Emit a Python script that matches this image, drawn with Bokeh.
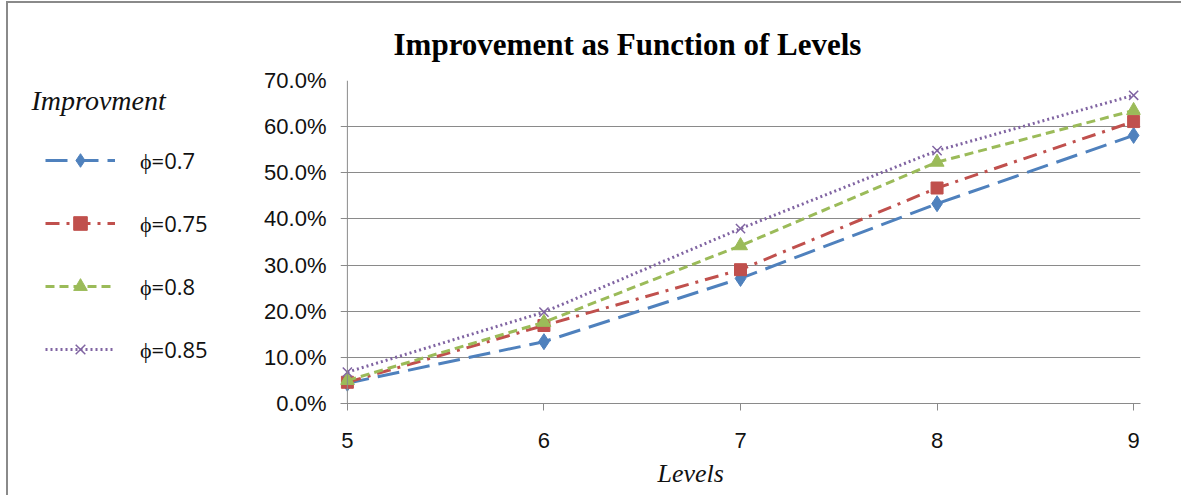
from bokeh.plotting import figure
from bokeh.layouts import row
from bokeh.models import (Range1d, NumeralTickFormatter, FixedTicker, Legend, LegendItem,
                          Span, Title, Label)
from bokeh.embed import file_html
from bokeh.resources import INLINE

levels = [5, 6, 7, 8, 9]
phi_070 = [0.044, 0.134, 0.271, 0.433, 0.581]
phi_075 = [0.046, 0.169, 0.290, 0.467, 0.611]
phi_080 = [0.050, 0.176, 0.342, 0.523, 0.635]
phi_085 = [0.068, 0.198, 0.379, 0.548, 0.668]
series_labels = ["ϕ=0.7", "ϕ=0.75", "ϕ=0.8", "ϕ=0.85"]
y_ticks = [0.0, 0.1, 0.2, 0.3, 0.4, 0.5, 0.6, 0.7]

H = 492
LW = 230
MW = 1173 - LW
TOP, BOTTOM = 77, 92
grey = "#8a8a8a"

# ---------------- main chart ----------------
p = figure(width=MW, height=H, output_backend="svg", toolbar_location=None,
           x_range=Range1d(4.965, 9.035), y_range=Range1d(0, 0.70),
           min_border_left=332 - LW, min_border_right=41,
           min_border_top=TOP, min_border_bottom=BOTTOM)
p.title = None
p.outline_line_color = None
p.background_fill_color = "white"
p.border_fill_color = "white"

p.xaxis.ticker = FixedTicker(ticks=levels)
p.xaxis.axis_line_color = grey
p.xaxis.major_tick_line_color = grey
p.xaxis.major_tick_out = 7
p.xaxis.major_tick_in = 0
p.xaxis.minor_tick_line_color = None
p.xaxis.major_label_standoff = 22
p.xaxis.major_label_text_font = "Liberation Sans"
p.xaxis.major_label_text_font_size = "22px"
p.xaxis.major_label_text_color = "#111111"

p.yaxis.ticker = FixedTicker(ticks=y_ticks)
p.yaxis.formatter = NumeralTickFormatter(format="0.0%")
p.yaxis.axis_line_color = None
p.yaxis.major_tick_line_color = None
p.yaxis.minor_tick_line_color = None
p.yaxis.major_label_standoff = 8
p.yaxis.major_label_text_font = "Liberation Sans"
p.yaxis.major_label_text_font_size = "22px"
p.yaxis.major_label_text_color = "#111111"

p.xgrid.grid_line_color = None
p.ygrid.ticker = FixedTicker(ticks=y_ticks)
p.ygrid.grid_line_color = grey
p.ygrid.grid_line_width = 1

p.add_layout(Span(location=levels[0], dimension="height", line_color=grey, line_width=1))

styles = [
    (phi_070, "#4F81BD", "22 9", "diamond", 16),
    (phi_075, "#C0504D", "14 7 3 7", "square", 12),
    (phi_080, "#9BBB59", "9 5", "triangle", 14),
    (phi_085, "#8064A2", "2 3", "x", 13),
]

p.add_layout(Title(text="Improvement as Function of Levels", align="left", offset=53,
                   text_font="Liberation Serif", text_font_style="bold",
                   text_font_size="31px", text_color="#000000", standoff=38), "above")
p.add_layout(Title(text="Levels", align="left", offset=317,
                   text_font="Liberation Serif", text_font_style="italic",
                   text_font_size="26px", text_color="#111111", standoff=13), "below")

# ---------------- legend panel (frame is aligned with the main frame by the row) ----------------
lg = figure(width=LW, height=H, output_backend="svg", toolbar_location=None,
            x_range=Range1d(0, LW), y_range=Range1d(H - BOTTOM, TOP),
            x_axis_type=None, y_axis_type=None,
            min_border_left=0, min_border_right=0,
            min_border_top=TOP, min_border_bottom=BOTTOM)
lg.title = None
lg.outline_line_color = None
lg.border_fill_color = "white"
lg.extra_y_ranges = {"off": Range1d(10, 11)}

items = []
for (vals, col, dash, mk, sz), lab in zip(styles, series_labels):
    p.line(levels, vals, line_color=col, line_width=3, line_dash=dash)
    if mk == "x":
        p.scatter(levels, vals, marker=mk, size=sz, line_color=col, line_width=1.5)
    else:
        p.scatter(levels, vals, marker=mk, size=sz, fill_color=col, line_color=col)
    lr = lg.line(levels, vals, line_color=col, line_width=3, line_dash=dash, y_range_name="off")
    if mk == "x":
        sr = lg.scatter(levels, vals, marker=mk, size=sz, line_color=col, line_width=1.5,
                        y_range_name="off")
    else:
        sr = lg.scatter(levels, vals, marker=mk, size=sz, fill_color=col, line_color=col,
                        y_range_name="off")
    items.append(LegendItem(label=lab, renderers=[lr, sr]))

legend = Legend(items=items, location=(37, 37), orientation="vertical",
                glyph_width=70, glyph_height=34, label_height=20, spacing=29,
                label_standoff=25, padding=0, margin=0,
                label_text_font="Open Sans", label_text_font_size="22px",
                label_text_color="#111111",
                border_line_color=None, background_fill_alpha=0)
lg.add_layout(legend)
lg.add_layout(Label(x=23, y=97, text="Improvment", text_font="Liberation Serif",
                    text_font_style="italic", text_font_size="28px", text_align="left",
                    text_baseline="middle", text_color="#111111"))

layout = row(lg, p, spacing=0,
             styles={"border-left": "2px solid " + grey, "border-top": "2px solid " + grey,
                     "margin-left": "6px", "margin-top": "1px"})

open("out.html", "w").write(file_html(layout, INLINE))
